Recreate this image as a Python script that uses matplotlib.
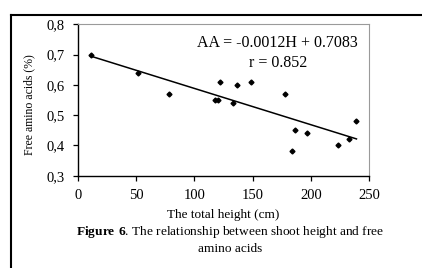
import numpy as np
import matplotlib
matplotlib.use('Agg')
import matplotlib.pyplot as plt
from matplotlib.lines import Line2D

# Data
height = [11, 52, 78, 118, 120.5, 122, 133, 136.5, 149, 178, 184, 186, 197, 223, 233, 239]
amino = [0.70, 0.64, 0.57, 0.55, 0.55, 0.61, 0.54, 0.60, 0.61, 0.57, 0.38, 0.45, 0.44, 0.40, 0.42, 0.48]
fit_coef = [-0.0012, 0.7083]
x_ticks = [0, 50, 100, 150, 200, 250]
y_ticks = [0.3, 0.4, 0.5, 0.6, 0.7, 0.8]
y_ticklabels = ['0,3', '0,4', '0,5', '0,6', '0,7', '0,8']

plt.rcParams['font.family'] = ['Liberation Serif', 'DejaVu Serif']
plt.rcParams['mathtext.fontset'] = 'custom'
plt.rcParams['mathtext.rm'] = 'Liberation Serif'
plt.rcParams['mathtext.bf'] = 'Liberation Serif:bold'

fig = plt.figure(figsize=(4.22, 2.68), dpi=100)
ax = fig.add_axes([0.1841, 0.3444, 0.691, 0.5649])

# Scatter and fitted line
ax.plot(height, amino, linestyle='none', marker='D', markersize=2.5, color='black')
fit_x = np.array([min(height), max(height)])
ax.plot(fit_x, np.polyval(fit_coef, fit_x), color='black', linewidth=1.1)

ax.set_xlim(0, 250)
ax.set_ylim(0.3, 0.8)
ax.set_xticks(x_ticks)
ax.set_yticks(y_ticks)
ax.set_yticklabels(y_ticklabels)
ax.tick_params(direction='out', length=3.5, width=0.9, labelsize=10.5, pad=6)

for side in ['top', 'right']:
    ax.spines[side].set_color('#9a9a9a')
for side in ['left', 'bottom']:
    ax.spines[side].set_color('black')
    ax.spines[side].set_linewidth(1.0)

ax.text(0.686, 0.876, 'AA = -0.0012H + 0.7083', transform=ax.transAxes,
        ha='center', va='center', fontsize=11.5)
ax.text(0.686, 0.746, 'r = 0.852', transform=ax.transAxes,
        ha='center', va='center', fontsize=11.5)

ax.set_xlabel('The total height (cm)', fontsize=9.5, labelpad=5)
ax.set_ylabel('Free amino acids (%)', fontsize=8.5)
ax.yaxis.set_label_coords(-0.145, 0.47)

# Caption below the chart
fig.text(0.545, 1 - 232 / 268, r'$\mathbf{Figure\ 6}$. The relationship between shoot height and free',
         ha='center', va='center', fontsize=9.6)
fig.text(0.545, 1 - 249 / 268, 'amino acids', ha='center', va='center', fontsize=9.6)

# Frame around the figure panel
fig.add_artist(Line2D([10.5 / 422, 10.5 / 422], [0, 1 - 14.5 / 268],
                      transform=fig.transFigure, color='black', linewidth=1.5))
fig.add_artist(Line2D([10.5 / 422, 1], [1 - 14.5 / 268, 1 - 14.5 / 268],
                      transform=fig.transFigure, color='black', linewidth=1.5))

fig.savefig('out.png', dpi=100)
